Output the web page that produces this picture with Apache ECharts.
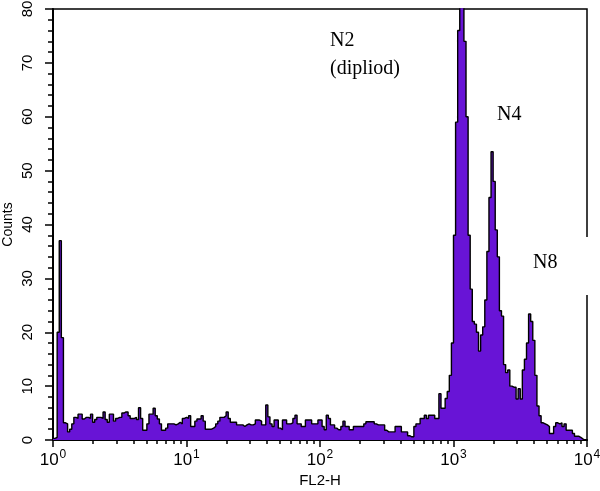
<!DOCTYPE html>
<html>
<head>
<meta charset="utf-8">
<script src="https://cdn.jsdelivr.net/npm/echarts@6/dist/echarts.min.js"></script>
<style>
html,body{margin:0;padding:0;background:#fff;}
#chart{width:600px;height:491px;}
</style>
</head>
<body>
<div id="chart"></div>
<script>
// 256 log-spaced channels spanning 10^0 .. 10^4 (FL2-H)
var channels = 256;
var decades = [0, 1, 2, 3, 4];
var yTicks = [0, 10, 20, 30, 40, 50, 60, 70, 80];
var counts = [
  0.3, 0.5, 20, 37, 19, 3.2, 3.0, 1.5, 2.0, 3.0,
  4.2, 4.0, 4.8, 4.8, 3.9, 4.2, 4.2, 4.0, 4.8, 3.3,
  3.8, 4.2, 4.2, 4.0, 5.2, 3.8, 3.3, 4.8, 4.8, 3.5,
  4.0, 4.2, 4.2, 5.0, 5.2, 5.2, 4.5, 4.0, 4.0, 4.2,
  3.8, 6.0, 4.0, 1.8, 1.8, 3.0, 4.8, 4.8, 5.9, 4.5,
  3.9, 3.0, 1.8, 1.8, 2.2, 3.0, 3.0, 3.0, 2.8, 3.0,
  3.3, 3.0, 4.0, 4.2, 4.0, 4.5, 2.5, 2.5, 3.5, 3.9,
  3.9, 4.5, 3.5, 2.0, 2.0, 2.0, 2.2, 2.5, 3.0, 3.5,
  4.2, 4.2, 4.5, 5.2, 4.0, 3.3, 3.3, 3.3, 2.8, 2.8,
  2.8, 2.5, 2.8, 3.0, 2.8, 2.8, 3.0, 3.7, 3.7, 3.5,
  2.8, 2.8, 6.5, 4.3, 3.0, 2.5, 3.7, 3.7, 2.2, 1.9,
  3.7, 3.7, 3.0, 3.0, 3.2, 4.0, 4.6, 3.0, 3.0, 2.5,
  2.5, 3.7, 3.7, 3.7, 3.0, 3.0, 3.0, 3.7, 3.7, 2.5,
  1.9, 4.6, 4.0, 2.8, 2.8, 2.2, 1.9, 1.9, 2.5, 3.5,
  2.5, 2.5, 1.9, 1.9, 2.5, 2.5, 2.5, 2.5, 2.5, 3.0,
  3.4, 3.4, 3.4, 3.4, 3.0, 2.8, 2.8, 2.8, 2.8, 1.8,
  1.5, 1.5, 1.5, 1.5, 2.5, 2.5, 2.5, 1.5, 1.5, 1.5,
  0.8, 0.6, 0.6, 2.5, 3.0, 3.0, 4.0, 4.0, 4.6, 4.0,
  4.6, 4.6, 4.6, 4.0, 4.0, 8.6, 5.9, 5.9, 7.7, 9,
  12, 18, 38, 59, 76, 84, 82, 74, 60, 38,
  28, 22, 21.5, 20, 16.5, 19.5, 21, 26, 35, 45,
  53.5, 48, 39, 34, 24, 23, 14, 12.5, 13, 10,
  9.8, 9.8, 7.6, 9.5, 7.6, 13, 15, 18, 23.4, 22,
  18.5, 12, 6.3, 4.5, 3.2, 3.0, 2.8, 2.5, 1.2, 1.2,
  2.5, 3.2, 3.0, 3.2, 2.5, 3.0, 1.8, 1.8, 1.8, 1.2,
  0.7, 0.7, 0.5, 0.2, 0, 0
];
var annotations = [
  {text: 'N2', x: 330, y: 31},
  {text: '(dipliod)', x: 330, y: 59},
  {text: 'N4', x: 497, y: 105},
  {text: 'N8', x: 533, y: 253}
];

// build histogram points in log10 space
var pts = [];
for (var i = 0; i < counts.length; i++) {
  pts.push([i * 4 / channels, counts[i]]);
}
pts.push([4, 0]);

// minor tick positions (log10 of 2..9 within each decade)
var minorVals = [];
for (var d = 0; d < 4; d++) {
  for (var k = 2; k <= 9; k++) minorVals.push(d + Math.log10(k));
}

var FONT = '"Liberation Sans", Arial, sans-serif';
var SERIF = '"Liberation Serif", "Times New Roman", serif';

var chart = echarts.init(document.getElementById('chart'), null, {renderer: 'canvas'});
chart.setOption({
  animation: false,
  backgroundColor: '#fff',
  grid: {left: 53, right: 13, top: 9, bottom: 51, containLabel: false, outerBoundsMode: 'none',
    show: true, borderColor: '#000', borderWidth: 1.5, backgroundColor: 'transparent'},
  xAxis: [{
    type: 'value', min: 0, max: 4, interval: 1,
    axisLine: {show: true, lineStyle: {color: '#000', width: 2}},
    axisTick: {show: true, length: 7, lineStyle: {color: '#000', width: 1.5}},
    splitLine: {show: false},
    axisLabel: {
      margin: 9, color: '#000',
      formatter: function (v) { return '{a|10}{b|' + v + '}'; },
      rich: {
        a: {fontFamily: FONT, fontSize: 17, color: '#000'},
        b: {fontFamily: FONT, fontSize: 12, color: '#000', verticalAlign: 'top', padding: [0, 0, 10, 1]}
      }
    },
    name: 'FL2-H', nameLocation: 'middle', nameGap: 33, nameMoveOverlap: false,
    nameTextStyle: {fontFamily: FONT, fontSize: 15, color: '#000'}
  }, {
    type: 'value', min: 0, max: 4, position: 'bottom',
    axisLine: {show: false},
    axisTick: {show: true, length: 4, customValues: minorVals, lineStyle: {color: '#000', width: 1.5}},
    axisLabel: {show: false},
    splitLine: {show: false}
  }],
  yAxis: {
    type: 'value', min: 0, max: 80, interval: 10,
    axisLine: {show: true, lineStyle: {color: '#000', width: 2}},
    axisTick: {show: true, length: 8, lineStyle: {color: '#000', width: 1.5}},
    minorTick: {show: true, splitNumber: 5, length: 5, lineStyle: {color: '#000', width: 1.5}},
    splitLine: {show: false},
    axisLabel: {rotate: 90, margin: 18, fontFamily: FONT, fontSize: 15, color: '#000'},
    name: 'Counts', nameLocation: 'middle', nameGap: 38, nameMoveOverlap: false,
    nameTextStyle: {fontFamily: FONT, fontSize: 14, color: '#000'}
  },
  series: [{
    type: 'line',
    data: pts,
    step: 'end',
    showSymbol: false,
    symbol: 'none',
    clip: true,
    lineStyle: {color: '#000', width: 1.4},
    areaStyle: {color: '#6814d6', opacity: 1},
    z: 2
  }],
  graphic: [
    {type: 'rect', shape: {x: 580, y: 237, width: 14, height: 58}, style: {fill: '#fff'}, z: 100}
  ].concat(annotations.map(function (a) {
    return {type: 'text', x: a.x, y: a.y, z: 101,
      style: {text: a.text, font: '20px ' + SERIF, fill: '#000'}};
  }))
});
</script>
</body>
</html>
